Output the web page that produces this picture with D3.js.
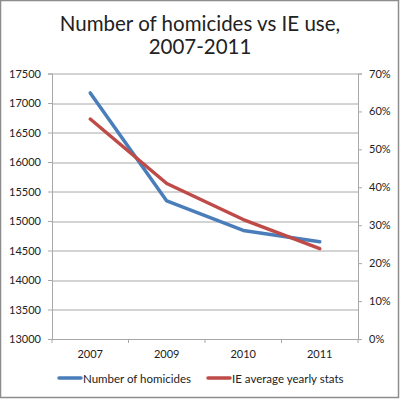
<!DOCTYPE html>
<html>
<head>
<meta charset="utf-8">
<script src="https://cdn.jsdelivr.net/npm/d3@7"></script>
<style>
  body { margin: 0; background: #fff; }
  svg text { font-family: Lato, "Open Sans", sans-serif; fill: #222; }
</style>
</head>
<body>
<div id="chart"></div>
<script>
// data
var years = ["2007", "2009", "2010", "2011"];
var homicides = [17170, 15340, 14840, 14650];
var ieShare = [0.58, 0.41, 0.315, 0.238];
var leftTicks = [13000, 13500, 14000, 14500, 15000, 15500, 16000, 16500, 17000, 17500];
var rightTicks = [0, 0.1, 0.2, 0.3, 0.4, 0.5, 0.6, 0.7];
var seriesNames = ["Number of homicides", "IE average yearly stats"];

var W = 400, H = 399;
var margin = {top: 73.5, right: 42, bottom: 60, left: 52};
var plot_w = W - margin.left - margin.right;
var plot_h = H - margin.top - margin.bottom;
var blue = "#4a7ebb", red = "#be4b48", grid = "#a8a8a8";

var svg = d3.select("#chart").append("svg")
    .attr("width", W).attr("height", H);

// outer frame
svg.append("rect")
    .attr("x", 0.5).attr("y", 0.5)
    .attr("width", W - 2).attr("height", H - 2)
    .attr("fill", "#fff").attr("stroke", "#8c8c8c").attr("stroke-width", 1.5);

// title
var title = svg.append("text")
    .attr("text-anchor", "middle")
    .attr("x", W / 2)
    .style("font-size", "20.5px");
title.append("tspan").attr("x", W / 2).attr("y", 31).text("Number of homicides vs IE use,");
title.append("tspan").attr("x", W / 2).attr("y", 54).text("2007-2011");

var g = svg.append("g")
    .attr("transform", "translate(" + margin.left + "," + margin.top + ")");

var x = d3.scaleBand().domain(years).range([0, plot_w]);
var y = d3.scaleLinear().domain([13000, 17500]).range([plot_h, 0]);
var y2 = d3.scaleLinear().domain([0, 0.7]).range([plot_h, 0]);

// gridlines
g.append("g").selectAll("line")
    .data(leftTicks.slice(1))
    .enter().append("line")
    .attr("x1", 0).attr("x2", plot_w)
    .attr("y1", function(d){ return Math.round(y(d)) + 0.5; })
    .attr("y2", function(d){ return Math.round(y(d)) + 0.5; })
    .attr("stroke", grid).attr("stroke-width", 1);

// left axis
var yAxis = g.append("g")
    .call(d3.axisLeft(y).tickValues(leftTicks).tickSize(4).tickPadding(7).tickFormat(d3.format("d")));
yAxis.selectAll("text").style("font-size", "11px");

// right axis
var y2Axis = g.append("g")
    .attr("transform", "translate(" + plot_w + ",0)")
    .call(d3.axisRight(y2).tickValues(rightTicks).tickSize(4).tickPadding(7).tickFormat(d3.format(".0%")));
y2Axis.selectAll("text").style("font-size", "11px");

// bottom axis with ticks at band edges
var xAxis = g.append("g")
    .attr("transform", "translate(0," + plot_h + ")")
    .call(d3.axisBottom(x).tickSize(0).tickPadding(11));
xAxis.selectAll("text").style("font-size", "11px");
xAxis.selectAll(".edge")
    .data(d3.range(years.length + 1))
    .enter().append("line")
    .attr("x1", function(i){ return i * x.step(); })
    .attr("x2", function(i){ return i * x.step(); })
    .attr("y1", 0).attr("y2", 4)
    .attr("stroke", grid);

[yAxis, y2Axis, xAxis].forEach(function(a){
    a.selectAll(".domain, line").attr("stroke", grid);
    a.selectAll("text").attr("fill", "#222");
});

// lines
var cx = function(d, i){ return x(years[i]) + x.bandwidth() / 2; };
var homLine = d3.line().x(cx).y(function(d){ return y(d); });
var ieLine = d3.line().x(cx).y(function(d){ return y2(d); });

g.append("path").datum(homicides)
    .attr("d", homLine)
    .attr("fill", "none").attr("stroke", blue).attr("stroke-width", 3.5)
    .attr("stroke-linejoin", "round").attr("stroke-linecap", "round");

g.append("path").datum(ieShare)
    .attr("d", ieLine)
    .attr("fill", "none").attr("stroke", red).attr("stroke-width", 3.5)
    .attr("stroke-linejoin", "round").attr("stroke-linecap", "round");

// legend
var legend = svg.append("g").attr("transform", "translate(0,378)");
var legX = [59, 208];
var legColors = [blue, red];
seriesNames.forEach(function(name, i){
    legend.append("line")
        .attr("x1", legX[i]).attr("x2", legX[i] + 22)
        .attr("y1", 0).attr("y2", 0)
        .attr("stroke", legColors[i]).attr("stroke-width", 3.5)
        .attr("stroke-linecap", "round");
    legend.append("text")
        .attr("x", legX[i] + 24).attr("y", 4.5)
        .style("font-size", "11.5px")
        .text(name);
});
</script>
</body>
</html>
